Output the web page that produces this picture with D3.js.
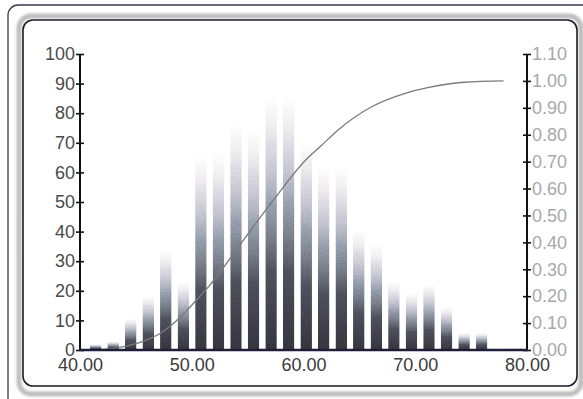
<!DOCTYPE html>
<html>
<head>
<meta charset="utf-8">
<script src="https://cdn.jsdelivr.net/npm/d3@7"></script>
<style>
  body { margin: 0; background: #fff; }
  svg { display: block; }
</style>
</head>
<body>
<svg id="chart"></svg>
<script>
const width = 583;
const height = 399;

// histogram bins (centre of each bin) and counts
const binMid = [41.40, 42.97, 44.54, 46.11, 47.68, 49.25, 50.82, 52.39, 53.96, 55.53,
  57.10, 58.67, 60.24, 61.81, 63.38, 64.95, 66.52, 68.09, 69.66, 71.23,
  72.80, 74.37, 75.94, 77.51, 79.08];
const counts = [2, 3, 11, 19, 35, 24, 68, 69, 79, 77,
  89, 89, 73, 64, 64, 42, 37, 24, 20, 23,
  15, 6, 6, 0, 0.6];

// cumulative curve
const cumX = [41.3, 43.8, 45.8, 47.3, 48.8, 50.3, 51.6, 52.9, 54.3, 57.3,
  60.2, 61.6, 63.1, 66.1, 69.1, 71.1, 74.4, 77.9];
const cumY = [0.0, 0.012, 0.035, 0.065, 0.115, 0.18, 0.24, 0.31, 0.39, 0.557,
  0.706, 0.76, 0.818, 0.904, 0.954, 0.975, 0.995, 1.0];

const xTicks = [40, 50, 60, 70, 80];
const leftTicks = [0, 10, 20, 30, 40, 50, 60, 70, 80, 90, 100];
const rightTicks = [0, 0.1, 0.2, 0.3, 0.4, 0.5, 0.6, 0.7, 0.8, 0.9, 1.0, 1.1];

const margin = { left: 80, right: 56, top: 54, bottom: 49 };

const svg = d3.select("#chart")
  .attr("width", width)
  .attr("height", height);

const defs = svg.append("defs");

const grad = defs.append("linearGradient")
  .attr("id", "barGrad")
  .attr("x1", 0).attr("y1", 1)
  .attr("x2", 0).attr("y2", 0);
[
  [0, "#3a3a44", 1],
  [0.3, "#555864", 1],
  [0.55, "#8290a4", 0.9],
  [0.78, "#bdb6cc", 0.65],
  [0.92, "#e6cbd8", 0.35],
  [1, "#ffffff", 0]
].forEach(([o, c, a]) => {
  grad.append("stop").attr("offset", o).attr("stop-color", c).attr("stop-opacity", a);
});

// grain on the bars
const grain = defs.append("filter").attr("id", "grain")
  .attr("x", 0).attr("y", 0).attr("width", 1).attr("height", 1);
grain.append("feTurbulence")
  .attr("type", "fractalNoise").attr("baseFrequency", 0.85)
  .attr("numOctaves", 2).attr("seed", 5).attr("result", "noise");
grain.append("feColorMatrix").attr("in", "noise").attr("type", "matrix")
  .attr("values", "0.6 0 0 0 0.55  0.6 0 0 0 0.55  0.6 0 0 0 0.55  0 0 0 0 1")
  .attr("result", "mono");
grain.append("feComposite").attr("in", "mono").attr("in2", "SourceAlpha")
  .attr("operator", "in").attr("result", "monoIn");
grain.append("feBlend").attr("in", "SourceGraphic").attr("in2", "monoIn")
  .attr("mode", "multiply").attr("result", "mixed");
grain.append("feComposite").attr("in", "mixed").attr("in2", "SourceGraphic")
  .attr("operator", "in");

const blur = defs.append("filter").attr("id", "soft");
blur.append("feGaussianBlur").attr("stdDeviation", 1.2);

// frames
svg.append("rect")
  .attr("x", 8).attr("y", 5)
  .attr("width", 600).attr("height", 420)
  .attr("rx", 10)
  .attr("fill", "none")
  .attr("stroke", "#3a3a4a")
  .attr("stroke-width", 1.3);

svg.append("rect")
  .attr("x", 19).attr("y", 16)
  .attr("width", 562).attr("height", 378)
  .attr("rx", 12)
  .attr("fill", "none")
  .attr("stroke", "#bdbdbd")
  .attr("stroke-width", 5)
  .attr("filter", "url(#soft)");

svg.append("rect")
  .attr("x", 23).attr("y", 20)
  .attr("width", 554).attr("height", 366)
  .attr("rx", 10)
  .attr("fill", "#fff")
  .attr("stroke", "#1c1c2a")
  .attr("stroke-width", 1.6);

const x = d3.scaleLinear()
  .domain([40, 80])
  .range([margin.left, width - margin.right]);

const y = d3.scaleLinear()
  .domain([0, 100])
  .range([height - margin.bottom, margin.top]);

const y2 = d3.scaleLinear()
  .domain([0, 1.1])
  .range([height - margin.bottom, margin.top]);

const step = binMid[1] - binMid[0];
const barW = (x(40 + step) - x(40)) * 0.66;

// bars
svg.append("g")
  .attr("filter", "url(#grain)")
  .selectAll("rect")
  .data(binMid.map((m, i) => ({ m, v: counts[i] })).filter(d => d.v > 0))
  .enter()
  .append("rect")
  .attr("x", d => x(d.m) - barW / 2)
  .attr("y", d => y(d.v))
  .attr("width", barW)
  .attr("height", d => y(0) - y(d.v))
  .attr("fill", "url(#barGrad)");

// cumulative line
const line = d3.line()
  .x((d, i) => x(cumX[i]))
  .y(d => y2(d))
  .curve(d3.curveMonotoneX);

svg.append("path")
  .datum(cumY)
  .attr("d", line)
  .attr("fill", "none")
  .attr("stroke", "#7a7a7a")
  .attr("stroke-width", 1.3);

const font = "'Liberation Sans', Arial, sans-serif";

// right axis (drawn first so bottom labels sit over its "0.00")
const rightAxis = svg.append("g")
  .attr("transform", `translate(${x(80)},0)`)
  .call(d3.axisRight(y2).tickValues(rightTicks).tickFormat(d3.format(".2f")).tickSize(4).tickPadding(1));
rightAxis.select(".domain").remove();
rightAxis.selectAll(".tick line")
  .attr("x1", -4).attr("x2", 4)
  .attr("stroke", "#111").attr("stroke-width", 1.6);
rightAxis.selectAll(".tick text")
  .attr("fill", "#a8a8a8")
  .style("font-family", font)
  .style("font-size", "18px");
svg.append("line")
  .attr("x1", x(80)).attr("x2", x(80))
  .attr("y1", y2(1.1)).attr("y2", y2(0))
  .attr("stroke", "#111").attr("stroke-width", 2);

// left axis
const leftAxis = svg.append("g")
  .attr("transform", `translate(${x(40)},0)`)
  .call(d3.axisLeft(y).tickValues(leftTicks).tickSize(4).tickPadding(1));
leftAxis.select(".domain").remove();
leftAxis.selectAll(".tick line")
  .attr("x1", -4).attr("x2", 4)
  .attr("stroke", "#111").attr("stroke-width", 1.6);
leftAxis.selectAll(".tick text")
  .attr("fill", "#4a4a4a")
  .style("font-family", font)
  .style("font-size", "18px");
svg.append("line")
  .attr("x1", x(40)).attr("x2", x(40))
  .attr("y1", y(100)).attr("y2", y(0))
  .attr("stroke", "#111").attr("stroke-width", 2);

// bottom axis
const bottomAxis = svg.append("g")
  .attr("transform", `translate(0,${y(0)})`)
  .call(d3.axisBottom(x).tickValues(xTicks).tickFormat(d3.format(".2f")).tickSize(0).tickPadding(8));
bottomAxis.select(".domain").remove();
bottomAxis.selectAll(".tick text")
  .attr("fill", "#3a3a3a")
  .style("font-family", font)
  .style("font-size", "18px");
svg.append("line")
  .attr("x1", x(40) - 1).attr("x2", x(80) + 1)
  .attr("y1", y(0)).attr("y2", y(0))
  .attr("stroke", "#1e1e3a").attr("stroke-width", 2.4);
</script>
</body>
</html>
